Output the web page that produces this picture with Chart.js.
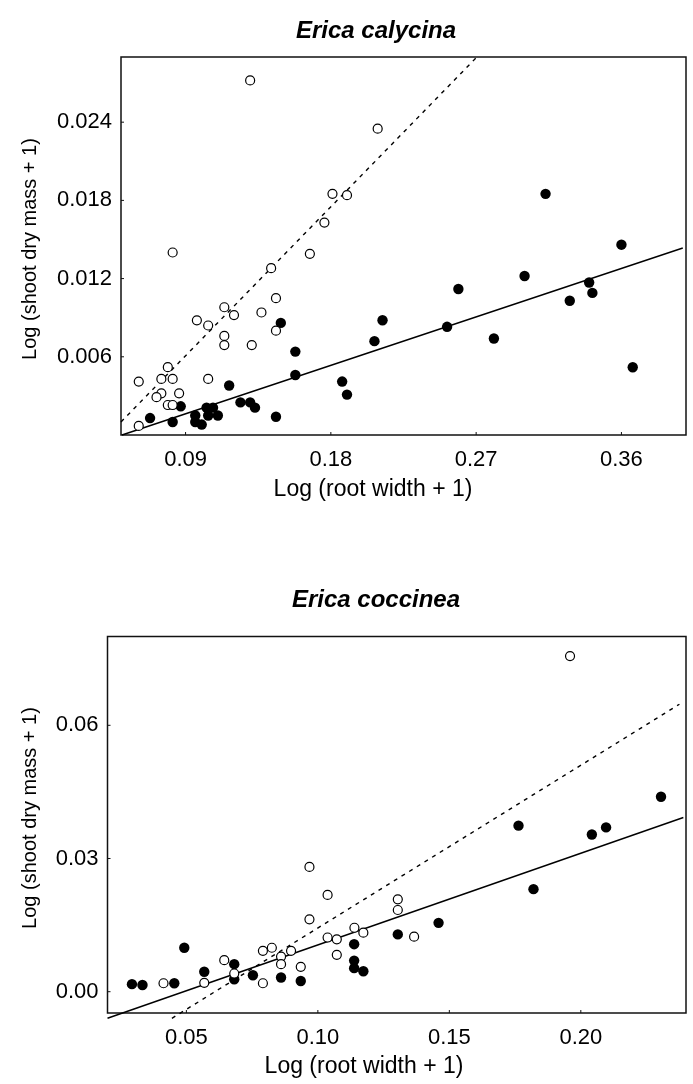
<!DOCTYPE html>
<html lang="en">
<head>
<meta charset="UTF-8">
<title>Erica calycina / Erica coccinea</title>
<script src="https://cdn.jsdelivr.net/npm/chart.js"></script>
<style>
  body { margin: 0; background: #fff; }
  canvas { position: absolute; left: 0; }
  #calycinaChart { top: 0; }
  #coccineaChart { top: 540px; }
</style>
</head>
<body>
<canvas id="calycinaChart" width="693" height="540"></canvas>
<canvas id="coccineaChart" width="693" height="544"></canvas>
<script>
// Erica calycina (top panel)
const calycinaOpenX = [0.130, 0.209, 0.181, 0.190, 0.176, 0.082, 0.167, 0.143, 0.146, 0.137,
  0.146, 0.131, 0.114, 0.120, 0.097, 0.104, 0.114, 0.114, 0.079, 0.061,
  0.075, 0.082, 0.104, 0.075, 0.086, 0.072, 0.079, 0.082, 0.061];
const calycinaOpenY = [0.0272, 0.0235, 0.0185, 0.0184, 0.0163, 0.0140, 0.0139, 0.0128, 0.0105, 0.0094,
  0.0080, 0.0069, 0.0098, 0.0092, 0.0088, 0.0084, 0.0076, 0.0069, 0.0052, 0.0041,
  0.0043, 0.0043, 0.0043, 0.0032, 0.0032, 0.0029, 0.0023, 0.0023, 0.0007];
const calycinaFilledX = [0.149, 0.212, 0.207, 0.158, 0.158, 0.117, 0.187, 0.190, 0.087, 0.068,
  0.082, 0.096, 0.096, 0.100, 0.103, 0.107, 0.104, 0.110, 0.124, 0.130,
  0.133, 0.146, 0.252, 0.259, 0.281, 0.300, 0.313, 0.328, 0.340, 0.342,
  0.360, 0.367];
const calycinaFilledY = [0.0086, 0.0088, 0.0072, 0.0064, 0.0046, 0.0038, 0.0041, 0.0031, 0.0022, 0.0013,
  0.0010, 0.0015, 0.0010, 0.0008, 0.0021, 0.0021, 0.0015, 0.0015, 0.0025, 0.0025,
  0.0021, 0.0014, 0.0083, 0.0112, 0.0074, 0.0122, 0.0185, 0.0103, 0.0117, 0.0109,
  0.0146, 0.0052];
// regression lines: [slope, intercept] and the x span they cover
const calycinaSolidFit = [0.0413, -0.00209];
const calycinaSolidSpan = [0.0506, 0.398];
const calycinaDashedFit = [0.127, -0.00535];
const calycinaDashedSpan = [0.050, 0.2705];
const calycinaXTicks = [0.09, 0.18, 0.27, 0.36];
const calycinaYTicks = [0.006, 0.012, 0.018, 0.024];

// Erica coccinea (bottom panel)
const coccineaOpenX = [0.0413, 0.0568, 0.0644, 0.0682, 0.0791, 0.0825, 0.0860, 0.0860, 0.0898, 0.0791,
  0.0935, 0.0968, 0.0968, 0.1037, 0.1037, 0.1072, 0.1072, 0.1139, 0.1173, 0.1304,
  0.1304, 0.1366, 0.1959];
const coccineaOpenY = [0.0019, 0.0020, 0.0071, 0.0041, 0.0092, 0.0099, 0.0079, 0.0062, 0.0092, 0.0019,
  0.0056, 0.0281, 0.0163, 0.0218, 0.0122, 0.0118, 0.0083, 0.0144, 0.0133, 0.0208,
  0.0184, 0.0124, 0.0756];
const coccineaFilledX = [0.0293, 0.0333, 0.0454, 0.0492, 0.0568, 0.0682, 0.0682, 0.0753, 0.0860, 0.0935,
  0.1138, 0.1138, 0.1138, 0.1173, 0.1304, 0.1459, 0.1763, 0.1820, 0.2042, 0.2096,
  0.2305];
const coccineaFilledY = [0.0017, 0.0015, 0.0019, 0.0099, 0.0045, 0.0062, 0.0028, 0.0037, 0.0032, 0.0024,
  0.0107, 0.0070, 0.0053, 0.0046, 0.0129, 0.0155, 0.0374, 0.0231, 0.0354, 0.0370,
  0.0439];
const coccineaSolidFit = [0.2065, -0.01012];
const coccineaSolidSpan = [0.020, 0.239];
const coccineaDashedFit = [0.3665, -0.0223];
const coccineaDashedSpan = [0.0445, 0.2375];
const coccineaXTicks = [0.05, 0.10, 0.15, 0.20];
const coccineaYTicks = [0.00, 0.03, 0.06];

const fontFamily = '"Liberation Sans", Arial, sans-serif';

function toPoints(xs, ys) {
  return xs.map((x, i) => ({ x: x, y: ys[i] }));
}

function fitLine(fit, span) {
  return span.map(x => ({ x: x, y: fit[0] * x + fit[1] }));
}

// box round the plot, short inward ticks, and the titles
const framePlugin = {
  id: 'frame',
  beforeDatasetsDraw(chart) {
    const { ctx, chartArea: a, scales } = chart;
    ctx.save();
    ctx.strokeStyle = '#111';
    ctx.lineWidth = 1.5;
    ctx.strokeRect(a.left, a.top, a.right - a.left, a.bottom - a.top);
    ctx.lineWidth = 1;
    ctx.beginPath();
    scales.x.ticks.forEach(t => {
      const px = scales.x.getPixelForValue(t.value);
      ctx.moveTo(px, a.bottom);
      ctx.lineTo(px, a.bottom - 3);
    });
    scales.y.ticks.forEach(t => {
      const py = scales.y.getPixelForValue(t.value);
      ctx.moveTo(a.left, py);
      ctx.lineTo(a.left + 3, py);
    });
    ctx.stroke();
    ctx.restore();
  },
  afterDraw(chart, args, opts) {
    const ctx = chart.ctx;
    ctx.save();
    ctx.fillStyle = '#000';
    ctx.textAlign = 'center';
    ctx.textBaseline = 'middle';
    ctx.font = 'italic bold 24px ' + fontFamily;
    ctx.fillText(opts.title, opts.titleX, opts.titleY);
    ctx.font = '23px ' + fontFamily;
    ctx.fillText(opts.xTitle, opts.xTitleX, opts.xTitleY);
    ctx.font = '20px ' + fontFamily;
    ctx.translate(opts.yTitleX, opts.yTitleY);
    ctx.rotate(-Math.PI / 2);
    ctx.fillText(opts.yTitle, 0, 0);
    ctx.restore();
  }
};

function makePanel(id, d) {
  return new Chart(document.getElementById(id), {
    type: 'scatter',
    data: {
      datasets: [
        {
          data: toPoints(d.openX, d.openY),
          pointRadius: 4.5,
          pointBackgroundColor: '#fff',
          pointBorderColor: '#000',
          pointBorderWidth: 1.2
        },
        {
          data: toPoints(d.filledX, d.filledY),
          pointRadius: 5.2,
          pointBackgroundColor: '#000',
          pointBorderColor: '#000',
          pointBorderWidth: 0
        },
        {
          data: fitLine(d.solidFit, d.solidSpan),
          showLine: true,
          pointRadius: 0,
          borderColor: '#000',
          borderWidth: 1.4,
          clip: d.lineClip
        },
        {
          data: fitLine(d.dashedFit, d.dashedSpan),
          showLine: true,
          pointRadius: 0,
          borderColor: '#000',
          borderWidth: 1.4,
          borderDash: [4, 5],
          clip: d.lineClip
        }
      ]
    },
    options: {
      responsive: false,
      animation: false,
      layout: { padding: { top: d.plotTop, right: 7, left: 0, bottom: 0 } },
      plugins: {
        legend: { display: false },
        tooltip: { enabled: false },
        frame: d.text
      },
      scales: {
        x: {
          type: 'linear',
          min: d.xMin,
          max: d.xMax,
          afterBuildTicks: s => { s.ticks = d.xTicks.map(v => ({ value: v })); },
          afterFit: s => { s.height = d.xAxisHeight; },
          grid: { display: false, drawTicks: false },
          border: { display: false },
          ticks: {
            autoSkip: false,
            maxRotation: 0,
            padding: 12,
            color: '#000',
            font: { family: fontFamily, size: 22 },
            callback: v => v.toFixed(2)
          }
        },
        y: {
          type: 'linear',
          min: d.yMin,
          max: d.yMax,
          afterBuildTicks: s => { s.ticks = d.yTicks.map(v => ({ value: v })); },
          afterFit: s => { s.width = d.yAxisWidth; },
          grid: { display: false, drawTicks: false },
          border: { display: false },
          ticks: {
            padding: 9,
            color: '#000',
            font: { family: fontFamily, size: 22 },
            callback: v => v.toFixed(d.yDigits)
          }
        }
      }
    },
    plugins: [framePlugin]
  });
}

makePanel('calycinaChart', {
  openX: calycinaOpenX, openY: calycinaOpenY,
  filledX: calycinaFilledX, filledY: calycinaFilledY,
  solidFit: calycinaSolidFit, solidSpan: calycinaSolidSpan,
  dashedFit: calycinaDashedFit, dashedSpan: calycinaDashedSpan,
  xTicks: calycinaXTicks, yTicks: calycinaYTicks,
  xMin: 0.05, xMax: 0.40, yMin: 0, yMax: 0.029, yDigits: 3,
  plotTop: 57, xAxisHeight: 105, yAxisWidth: 121,
  lineClip: 1,
  text: {
    title: 'Erica calycina', titleX: 376, titleY: 31,
    xTitle: 'Log (root width + 1)', xTitleX: 373, xTitleY: 490,
    yTitle: 'Log (shoot dry mass + 1)', yTitleX: 30, yTitleY: 249
  }
});

makePanel('coccineaChart', {
  openX: coccineaOpenX, openY: coccineaOpenY,
  filledX: coccineaFilledX, filledY: coccineaFilledY,
  solidFit: coccineaSolidFit, solidSpan: coccineaSolidSpan,
  dashedFit: coccineaDashedFit, dashedSpan: coccineaDashedSpan,
  xTicks: coccineaXTicks, yTicks: coccineaYTicks,
  xMin: 0.02, xMax: 0.24, yMin: -0.0048, yMax: 0.080, yDigits: 2,
  plotTop: 96.5, xAxisHeight: 71, yAxisWidth: 107.5,
  lineClip: { left: 1, top: 1, right: 1, bottom: 10 },
  text: {
    title: 'Erica coccinea', titleX: 376, titleY: 60,
    xTitle: 'Log (root width + 1)', xTitleX: 364, xTitleY: 527,
    yTitle: 'Log (shoot dry mass + 1)', yTitleX: 30, yTitleY: 278
  }
});
</script>
</body>
</html>
